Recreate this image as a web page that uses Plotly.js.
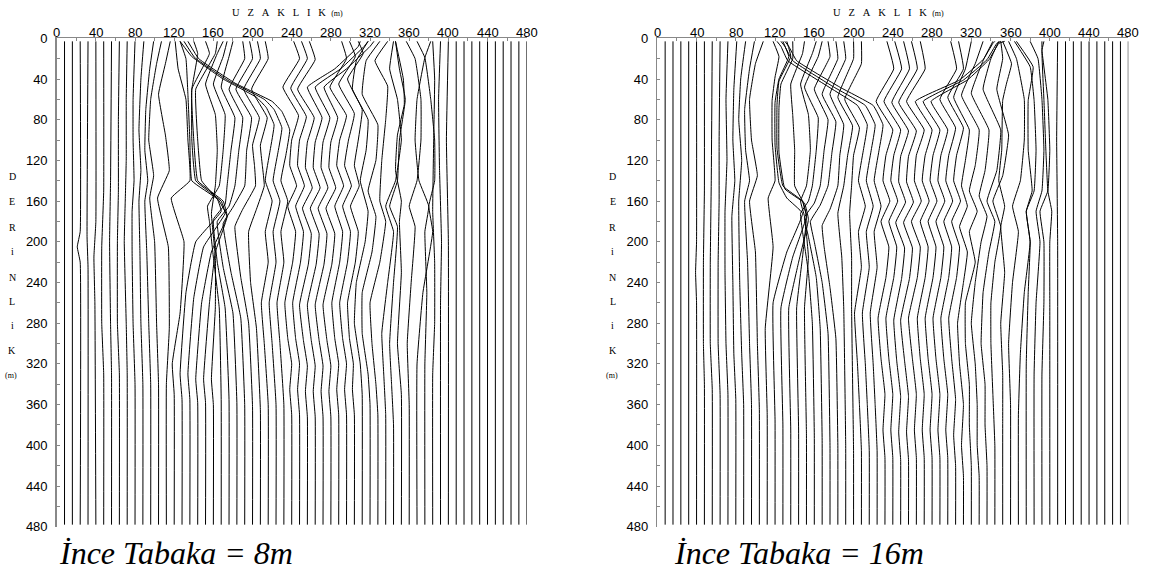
<!DOCTYPE html>
<html><head><meta charset="utf-8">
<script src="https://cdn.plot.ly/plotly-3.0.1.min.js"></script>
<style>html,body{margin:0;padding:0;background:#fff}#chart{width:1149px;height:573px}</style>
</head><body><div id="chart"></div>
<script>
// trace base positions (m)
const traceX = [8,16,24,32,40,48,56,64,72,80,88,96,104,112,120,128,136,144,152,160,168,176,184,192,200,208,216,224,232,240,248,256,264,272,280,288,296,304,312,320,328,336,344,352,360,368,376,384,392,400,408,416,424,432,440,448,456,464,472,480];
const distTicks = [0,40,80,120,160,200,240,280,320,360,400,440,480];
const depthTicks = [0,40,80,120,160,200,240,280,320,360,400,440,480];
const minorTicks = [20,60,100,140,180,220,260,300,340,380,420,460];
const captions = ['İnce Tabaka = 8m', 'İnce Tabaka = 16m'];
const xTitleLetters = ['U','Z','A','K','L','I','K'];
const yTitleLetters = ['D','E','R','i','N','L','i','K'];
const S = [3,478];

// ---- thin layer 8 m : vertex depths (m) and trace deflection (m)
const leftDepth = [
S,S,[3,190,205,220,478],[3,195,225,478],[3,180,215,260,478],[3,150,205,280,330,478],[3,140,200,280,330,478],[3,80,150,200,280,330,478],
[3,60,120,160,200,280,330,478],[3,60,100,140,170,210,280,340,478],[3,40,90,130,160,210,280,340,478],[3,30,70,110,140,160,210,280,340,478],
[3,25,60,100,135,157,200,280,340,478],[3,25,55,95,130,157,205,285,340,478],[3,30,60,100,140,157,200,270,320,350,478],
[3,20,55,100,140,158,170,200,250,330,355,478],[3,15,50,100,140,160,172,205,255,330,355,478],[3,15,50,100,140,160,175,210,260,335,358,478],
[3,15,50,100,140,160,175,210,260,335,358,478],[3,15,45,75,110,145,172,215,265,335,360,478],
[3,18,45,75,110,145,165,180,215,265,355,478],[3,18,48,78,110,145,163,178,220,265,355,478],
[3,20,50,78,110,145,165,180,225,270,358,478],[3,20,50,78,110,145,166,182,230,275,360,478],
[3,20,50,78,105,125,145,168,185,235,280,362,478],[3,20,50,78,105,125,145,168,190,240,285,365,478],
[3,18,40,58,68,85,110,140,160,190,220,260,300,360,478],[3,19,42,60,70,88,112,140,160,190,220,260,300,360,478],
[3,20,44,62,72,90,115,140,160,190,220,260,300,360,478],
[3,20,48,76,100,125,145,165,190,220,260,295,320,345,370,478],[3,20,49,77,100,125,145,165,190,220,260,295,320,345,370,478],
[3,21,50,78,102,127,147,167,192,222,262,297,322,347,372,478],
[3,8,30,48,78,102,127,147,167,192,222,262,297,322,347,372,478],[3,8,30,48,78,102,127,147,167,192,222,262,297,322,347,372,478],
[3,8,30,48,78,102,127,147,167,192,222,262,297,322,347,372,478],
[3,20,48,76,100,125,145,165,190,220,260,295,320,345,370,478],[3,18,45,74,100,125,145,165,190,220,260,295,320,345,370,478],
[3,15,40,70,100,125,145,165,190,220,260,295,320,345,370,478],
[3,22,50,80,110,140,170,200,240,280,320,350,478],[3,22,55,85,120,150,175,210,250,290,330,360,478],
[3,22,47,80,120,160,180,220,260,300,340,370,478],[3,30,60,100,140,165,190,240,290,330,370,478],
[3,30,60,100,140,165,185,240,300,340,380,478],[3,40,65,95,130,160,180,230,300,350,478],
[3,20,60,100,140,165,185,240,300,360,478],[3,19,60,100,140,165,190,250,320,478],[3,19,60,100,140,165,190,250,320,478],
[3,40,100,170,220,280,330,478],[3,60,130,200,260,478],[3,100,200,478],
S,S,S,S,S,S,S,S,S,S];
const leftShift = [
[0,0],[0,0],[0,0,-3,0,0],[0,-1,0,0],[0,0,-2,-1,0],[0,0,-2,-2,0,0],[0,-1,-2,-1,0,0],[0,-1,-1,-2,-2,0,0],
[0,-1,-1,-2,-3,-1,0,0],[0,-2,-2,-1,-3,-3,-2,0,0],[1,-2,-4,-2,-4,-3,-2,0,0],[3,-1,-5,-6,-3,-6,-4,-2,0,0],
[3,-2,-8,-10,-5,-9,-4,-2,0,0],[4,-1,-8,-1,3,-9,2,3,0,0],[1,4,12,14,16,-3,10,6,-2,0,0],
[-2,4,6,8,10,36,40,14,4,-2,0,0],[4,8,2,2,6,32,36,14,4,-2,0,0],[8,12,-6,-4,0,26,30,14,4,-2,0,0],
[12,10,-10,-8,-4,14,22,10,4,-2,0,0],[10,4,-8,2,4,2,-2,2,2,-2,0,0],
[6,2,-8,4,2,-2,-14,-12,-8,-2,0,0],[4,0,-8,6,2,-2,-4,-16,-12,-4,0,0],
[6,8,-8,6,2,-2,-8,-20,-14,-4,0,0],[5,8,-9,7,2,0,-12,-22,-14,-4,0,0],
[5,8,-9,7,0,2,3,-10,-18,-12,-4,0,0],[5,8,-9,7,0,2,4,-4,-12,-10,-4,0,0],
[-90,-78,-46,-12,-2,6,2,-3,4,-3,0,-7,-4,0,0],[-94,-83,-48,-12,-2,6,2,-3,4,-3,0,-7,-4,0,0],
[-98,-87,-50,-12,-2,6,2,-3,4,-3,0,-7,-4,0,0],
[2,8,-9,7,0,-2,5,-4,4,1,-7,-4,0,-2,0,0],[2,8,-9,7,0,-2,5,-4,4,1,-7,-4,0,-2,0,0],
[2,8,-10,7,0,-2,5,-5,4,1,-8,-4,0,-2,0,0],
[46,44,20,-8,7,0,-2,5,-5,4,1,-8,-4,0,-2,0,0],[46,42,18,-8,7,0,-2,5,-5,4,1,-8,-4,0,-2,0,0],
[44,40,16,-7,7,0,-2,5,-5,4,1,-8,-4,0,-2,0,0],
[3,8,-9,8,1,-2,5,-4,4,1,-7,-4,0,-2,0,0],[3,9,-8,8,2,-2,5,-4,4,1,-7,-4,0,-2,0,0],
[4,9,-7,8,4,0,5,-4,4,1,-7,-5,-1,-2,0,0],
[6,-6,-10,6,4,-2,6,3,-6,-8,-2,0,0],[10,-4,-8,8,6,-2,6,2,-8,-8,-2,0,0],
[10,-3,10,8,4,2,8,2,-8,-6,-2,0,0],[8,4,12,16,10,0,8,2,-4,-2,0,0],
[2,6,12,6,4,-4,4,0,-4,-2,0,0],[-6,2,3,-4,-6,0,-2,0,-4,0,0],
[-3,6,12,12,8,0,6,2,-2,0,0],[0,8,14,18,18,12,16,6,0,0],[6,0,-8,-10,-6,4,0,2,0,0],
[0,2,1,0,2,2,0,0],[0,-2,-1,1,0,0],[0,-2,0,0],
[0,0],[0,0],[0,0],[0,0],[0,0],[0,0],[0,0],[0,0],[0,0],[0,0]];

// ---- thin layer 16 m
const rightDepth = [
S,S,S,S,[3,200,230,260,478],[3,150,220,300,340,478],[3,140,220,300,345,478],[3,100,160,220,300,350,478],
[3,60,120,170,230,300,350,478],[3,50,100,140,175,240,310,355,478],[3,40,80,120,160,240,310,360,478],
[3,30,70,110,140,160,220,300,360,478],[3,25,60,100,135,160,210,300,365,478],[3,18,38,61,100,140,157,205,285,370,478],
[3,18,40,63,105,142,157,172,210,260,375,478],[3,18,42,65,108,145,160,175,215,265,380,478],[3,20,45,68,112,148,162,178,220,265,385,478],
[3,15,45,75,110,145,160,175,215,265,385,478],[3,15,45,75,110,145,160,175,215,265,390,478],
[3,18,48,78,110,145,160,172,190,230,280,390,478],[3,18,50,80,110,145,162,176,195,235,285,395,478],
[3,20,55,82,112,145,164,180,200,240,290,400,478],[3,20,55,85,115,145,168,184,205,245,295,400,478],
[3,20,58,86,115,145,172,215,265,400,478],[3,25,60,88,115,145,172,215,265,405,478],
[3,8,22,48,66,85,110,140,165,190,225,270,320,360,405,478],[3,8,22,48,66,85,110,140,165,190,225,270,320,360,405,478],
[3,8,22,48,66,85,110,140,165,190,225,270,320,360,405,478],
[3,30,62,90,115,140,160,180,205,235,275,315,350,385,412,478],[3,30,62,90,115,140,160,180,205,235,275,315,350,385,412,478],
[3,30,63,91,116,141,161,181,206,236,277,317,352,387,414,478],[3,30,63,91,116,141,161,181,206,236,277,317,352,387,414,478],
[3,30,62,90,115,140,160,180,205,235,275,315,350,385,412,478],
[3,5,21,41,62,90,115,140,160,180,205,235,275,315,350,385,412,478],[3,5,21,41,62,90,115,140,160,180,205,235,275,315,350,385,412,478],
[3,5,21,41,62,90,115,140,160,180,205,235,275,315,350,385,412,478],
[3,30,60,88,115,140,160,180,205,235,275,315,350,385,412,478],[3,30,58,88,115,140,160,180,205,235,275,315,355,390,420,478],
[3,30,58,90,120,145,165,185,210,240,280,320,360,400,430,478],[3,25,56,90,125,150,170,190,220,260,300,340,380,420,478],
[3,22,54,90,130,155,175,200,240,280,320,360,400,430,478],[3,20,50,90,130,160,180,210,250,300,340,380,420,478],
[3,20,50,95,135,160,185,220,260,300,350,400,478],[3,25,44,61,110,140,165,185,230,280,330,380,478],
[3,20,60,100,140,165,190,240,300,360,478],[3,28,61,110,150,170,200,250,310,370,478],[3,28,61,110,150,170,200,250,320,478],
[3,20,60,110,150,170,200,260,330,478],[3,12,60,110,150,170,200,260,330,478],[3,12,60,110,150,170,200,260,330,478],
[3,100,200,478],S,S,S,S,S,S,S,S,S];
const rightShift = [
[0,0],[0,0],[0,0],[0,0],[0,0,-1,0,0],[0,0,-1,-1,0,0],[0,-1,-2,-2,0,0],[0,-1,-1,-2,-2,0,0],
[0,-2,-1,-3,-3,-2,0,0],[1,-2,-3,-1,-4,-3,-2,0,0],[2,-3,-5,-2,-5,-4,-2,0,0],
[3,-2,-7,-6,-2,-7,-4,-2,0,0],[4,-4,-10,-8,-2,-10,-4,-2,0,0],[6,12,8,5,5,8,1,6,-2,0,0],
[8,14,4,0,0,4,12,28,12,-2,0,0],[4,8,-4,-6,-6,0,20,24,10,-2,0,0],[2,2,-10,-12,-12,-6,14,18,8,-2,0,0],
[6,4,-8,-6,-4,-4,4,8,4,-2,0,0],[10,6,-6,2,4,0,-6,-2,2,-2,0,0],
[8,4,-10,4,2,-2,-6,-14,-12,-6,-2,0,0],[6,8,-8,6,2,-2,-8,-18,-14,-6,-2,0,0],
[6,8,-8,6,2,-2,-10,-20,-16,-8,-2,0,0],[6,8,-8,6,2,0,-8,-16,-14,-8,-2,0,0],
[8,8,-8,7,2,-2,-8,-4,-2,0,0],[8,8,-9,6,0,-2,-4,-2,-2,0,0],
[-86,-82,-75,-33,-4,6,2,-3,4,-3,0,-7,-4,-2,0,0],[-90,-86,-78,-36,-4,6,2,-3,4,-3,0,-7,-4,-2,0,0],
[-94,-90,-82,-38,-4,6,2,-3,4,-3,0,-7,-4,-2,0,0],
[2,9,-9,8,1,-2,5,-4,4,1,-7,-4,0,-2,0,0],[2,9,-9,8,1,-2,5,-4,4,1,-7,-4,0,-2,0,0],
[3,9,-9,8,0,-2,5,-5,4,1,-7,-4,0,-2,0,0],[3,9,-10,8,0,-2,5,-5,4,1,-8,-4,0,-2,0,0],
[4,9,-10,8,0,-2,5,-5,4,1,-8,-4,0,-2,0,0],
[72,70,60,36,-9,8,1,-2,5,-4,4,1,-7,-4,0,-2,0,0],[70,66,56,32,-9,8,1,-2,5,-4,4,1,-7,-4,0,-2,0,0],
[66,60,50,28,-9,8,1,-2,5,-4,4,1,-7,-4,0,-2,0,0],
[3,9,-8,8,1,-2,5,-4,4,1,-7,-4,0,-2,0,0],[3,8,-8,8,1,-2,5,-4,4,1,-7,-4,0,-2,0,0],
[8,2,-10,6,2,-2,4,-4,4,0,-6,-4,0,-2,0,0],[12,4,-10,8,4,-2,6,-2,4,-6,-6,-2,-2,0,0],
[14,4,-8,10,6,0,8,2,-4,-8,-4,-2,-2,0,0],[12,4,-4,14,10,0,8,2,-4,-6,-2,-2,0,0],
[6,8,2,14,8,-2,6,0,-4,-4,-2,0,0],[0,9,4,0,-1,-4,2,-2,2,-2,0,0,0],
[-2,6,14,14,10,2,8,2,-2,0,0],[-4,12,16,18,16,8,12,6,2,0,0],[-10,7,2,2,6,0,4,2,0,0],
[-4,4,8,10,8,2,6,2,0,0],[0,0,6,8,6,-2,2,2,0,0],[-6,-8,-6,-4,-2,2,0,0,0,0],
[0,-1,0,0],[0,0],[0,0],[0,0],[0,0],[0,0],[0,0],[0,0],[0,0],[0,0]];

const traces = [];
function addPanel(depths, shifts, xa, ya){
  traceX.forEach((x0, i) => {
    const d = depths[i], s = shifts[i];
    traces.push({type:'scatter', mode:'lines', x:d.map((_, j) => x0 + s[j]), y:d, xaxis:xa, yaxis:ya,
      line:{color:'#000', width:1, shape:'spline', smoothing:0.3}, hoverinfo:'skip', showlegend:false});
  });
}
addPanel(leftDepth, leftShift, 'x', 'y');
addPanel(rightDepth, rightShift, 'x2', 'y2');

const W = 1149, H = 573;
const axisFont = {family:'Liberation Sans', size:13, color:'#000'};
const serif = 'Liberation Serif';
function xAx(dom, anchor){
  return {domain:dom, range:[0,480], side:'top', anchor:anchor, tickvals:distTicks, showticklabels:false,
    ticks:'inside', ticklen:3, tickcolor:'#888', showline:true, linecolor:'#888', linewidth:1.5,
    showgrid:false, zeroline:false,
    minor:{tickvals:minorTicks, ticks:'inside', ticklen:3, tickcolor:'#888'}, fixedrange:true};
}
function yAx(anchor){
  return {domain:[1-526.7/H, 1-38.3/H], range:[480,0], anchor:anchor, tickvals:depthTicks,
    ticks:'inside', ticklen:3, tickcolor:'#888', showline:true, linecolor:'#888', linewidth:1.5,
    showgrid:false, zeroline:false, tickfont:axisFont, ticklabelstandoff:5,
    minor:{tickvals:minorTicks, ticks:'inside', ticklen:3, tickcolor:'#888'}, fixedrange:true};
}
const ann = [];
const panels = [
  {x0:56.7, cap:captions[0], capx:57, xref:'x'},
  {x0:657.3, cap:captions[1], capx:672, xref:'x2'}];
panels.forEach(p => {
  distTicks.forEach(v => ann.push({xref:p.xref, yref:'paper', x:v, y:1-32/H, xanchor:'center', yanchor:'middle',
    showarrow:false, text:String(v), font:axisFont}));
  ann.push({xref:'paper', yref:'paper', x:(p.x0+231)/W, y:1-12/H, xanchor:'center', yanchor:'middle', showarrow:false,
    text: xTitleLetters.join('\u00a0\u00a0\u00a0') + '\u00a0\u00a0<span style="font-size:8px">(m)</span>',
    font:{family:serif, size:10.5, color:'#000'}});
  const ys = [177,202,227,251,277,301,325,350];
  yTitleLetters.forEach((L,i) => {
    ann.push({xref:'paper', yref:'paper', x:(p.x0-44.7)/W, y:1-ys[i]/H, xanchor:'center', yanchor:'middle', showarrow:false,
      text:L, font:{family:serif, size:10, color:'#000'}});
  });
  ann.push({xref:'paper', yref:'paper', x:(p.x0-45.7)/W, y:1-375/H, xanchor:'center', yanchor:'middle', showarrow:false,
      text:'(m)', font:{family:serif, size:8, color:'#000'}});
  ann.push({xref:'paper', yref:'paper', x:p.capx/W, y:1-553/H, xanchor:'left', yanchor:'middle', showarrow:false,
      text:p.cap, font:{family:serif, size:32, color:'#000', style:'italic'}});
});
const layout = {width:W, height:H, margin:{l:0,r:0,t:0,b:0}, paper_bgcolor:'#fff', plot_bgcolor:'#fff', showlegend:false,
  xaxis:xAx([56.7/W, 526.7/W],'y'), yaxis:yAx('x'),
  xaxis2:xAx([657.3/W, 1128.3/W],'y2'), yaxis2:yAx('x2'),
  annotations:ann};
Plotly.newPlot('chart', traces, layout, {staticPlot:true});
</script></body></html>
